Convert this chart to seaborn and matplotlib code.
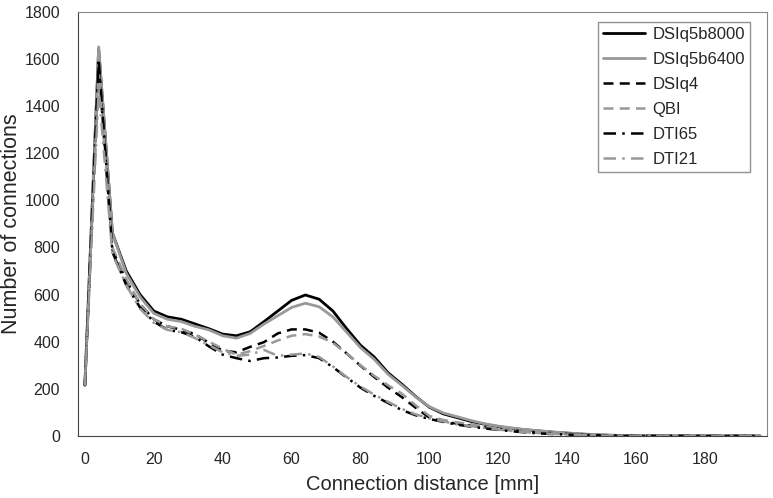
import numpy as np
import pandas as pd
import seaborn as sns
import matplotlib.pyplot as plt
from matplotlib.ticker import MultipleLocator, FixedLocator

# Connection distance bins [mm]
distance = list(range(0, 200, 4))

tail0 = [0] * 9

dsiq5b8000 = [215, 1640, 860, 700, 600, 530, 505, 495, 475, 455,
              432, 425, 442, 485, 530, 575, 598, 580, 530, 455,
              385, 335, 268, 220, 168, 122, 94, 78, 62, 50,
              40, 32, 26, 21, 16, 12, 8, 5, 3, 2, 1] + tail0
dsiq5b6400 = [215, 1650, 860, 690, 590, 520, 495, 485, 465, 450,
              425, 415, 435, 475, 510, 545, 563, 548, 505, 440,
              375, 325, 262, 215, 166, 124, 98, 82, 66, 52,
              42, 34, 27, 22, 17, 13, 9, 6, 4, 2, 1] + tail0
dsiq4 = [215, 1570, 790, 660, 560, 495, 465, 450, 432, 395,
         362, 355, 378, 398, 435, 452, 452, 438, 400, 350,
         298, 250, 205, 165, 120, 78, 62, 52, 45, 37,
         30, 24, 19, 15, 12, 9, 6, 4, 2, 1, 0] + tail0
qbi = [215, 1540, 800, 665, 560, 495, 465, 455, 430, 400,
       370, 345, 360, 382, 405, 425, 432, 422, 395, 350,
       300, 255, 215, 180, 130, 85, 68, 58, 50, 40,
       32, 26, 20, 16, 12, 9, 6, 4, 2, 1, 0] + tail0
dti65 = [215, 1600, 780, 640, 545, 485, 450, 440, 420, 380,
         345, 330, 318, 330, 333, 340, 343, 330, 292, 248,
         205, 170, 140, 110, 88, 72, 60, 48, 40, 32,
         26, 20, 15, 11, 8, 6, 4, 2, 1, 0, 0] + tail0
dti21 = [215, 1470, 770, 640, 540, 480, 450, 440, 415, 385,
         355, 340, 345, 365, 340, 345, 350, 335, 295, 250,
         210, 175, 145, 115, 92, 75, 62, 50, 42, 34,
         27, 21, 16, 12, 9, 6, 4, 2, 1, 0, 0] + tail0

series = ['DSIq5b8000', 'DSIq5b6400', 'DSIq4', 'QBI', 'DTI65', 'DTI21']
values = [dsiq5b8000, dsiq5b6400, dsiq4, qbi, dti65, dti21]

df = pd.DataFrame({'distance': distance * len(series),
                   'connections': sum(values, []),
                   'method': np.repeat(series, len(distance))})

black = '#000000'
grey = '#999999'
styles = {
    'DSIq5b8000': dict(color=black, lw=2.0, ls='-'),
    'DSIq5b6400': dict(color=grey, lw=2.0, ls='-'),
    'DSIq4': dict(color=black, lw=1.8, ls=(0, (4, 2.5))),
    'QBI': dict(color=grey, lw=1.8, ls=(0, (4, 2.5))),
    'DTI65': dict(color=black, lw=1.8, ls=(0, (5, 2.5, 1, 2.5))),
    'DTI21': dict(color=grey, lw=1.8, ls=(0, (5, 2.5, 1, 2.5))),
}

sns.set_style('white')
plt.rcParams['font.family'] = ['Liberation Sans', 'DejaVu Sans']

fig = plt.figure(figsize=(7.73, 4.98), dpi=100)
ax = fig.add_axes([0.1009, 0.1245, 0.8913, 0.8524])

for name in series:
    st = styles[name]
    sns.lineplot(data=df[df['method'] == name], x='distance', y='connections',
                 ax=ax, color=st['color'], linewidth=st['lw'], linestyle=st['ls'],
                 label=name)

ax.set_xlim(-2, 198)
ax.set_ylim(0, 1800)
ax.yaxis.set_major_locator(MultipleLocator(200))
ax.xaxis.set_major_locator(FixedLocator(range(0, 200, 20)))
ax.xaxis.set_minor_locator(FixedLocator(range(-2, 199, 20)))
ax.tick_params(axis='x', which='major', length=0, labelsize=11.5, pad=11.5)
ax.tick_params(axis='x', which='minor', length=6, direction='out', color='#444444')
ax.tick_params(axis='y', length=6, direction='out', labelsize=11.5, pad=7,
               color='#444444')

for side in ['left', 'bottom']:
    ax.spines[side].set_color('#444444')
for side in ['top', 'right']:
    ax.spines[side].set_color('#888888')

ax.set_xlabel('Connection distance [mm]', fontsize=14.5, labelpad=6)
ax.set_ylabel('Number of connections', fontsize=15.5)
ax.yaxis.set_label_coords(-0.081, 0.5)

leg = ax.legend(loc='upper right', bbox_to_anchor=(0.9753, 0.9753), borderaxespad=0,
                fontsize=12, frameon=True, fancybox=False, edgecolor='#777777',
                handlelength=2.5, handletextpad=0.45, labelspacing=0.6,
                borderpad=0.3)
leg.get_frame().set_linewidth(1.0)

fig.savefig('out.png', dpi=100)
